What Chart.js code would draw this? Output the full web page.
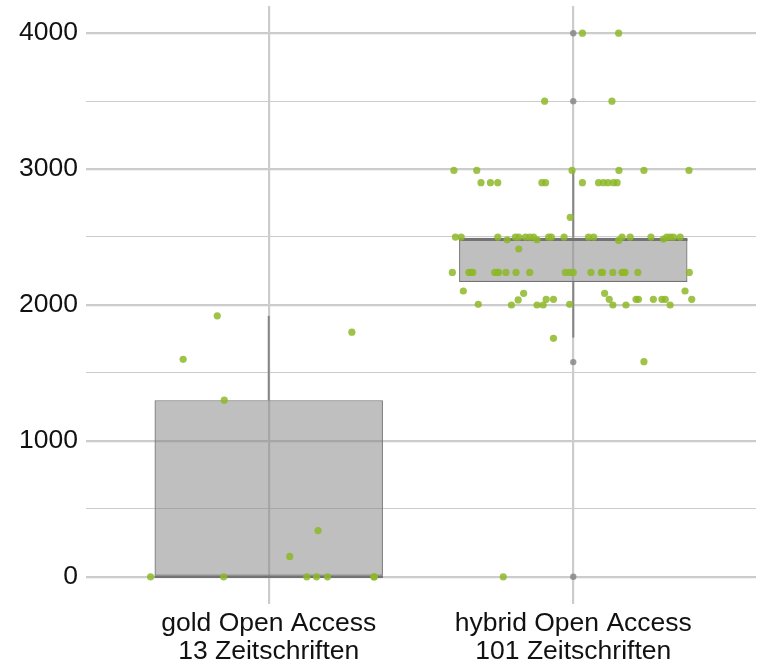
<!DOCTYPE html>
<html>
<head>
<meta charset="utf-8">
<script src="https://cdn.jsdelivr.net/npm/chart.js@4.4.1/dist/chart.umd.min.js"></script>
<style>
  html, body { margin: 0; padding: 0; background: #fff; }
  #wrap { width: 761px; height: 664px; }
</style>
</head>
<body>
<div id="wrap"><canvas id="chart"></canvas></div>
<script>
// Kategorien (x-Achse)
const categories = [
  ["gold Open Access", "13 Zeitschriften"],
  ["hybrid Open Access", "101 Zeitschriften"]
];
const yTicks = [0, 500, 1000, 1500, 2000, 2500, 3000, 3500, 4000];

// Boxplot-Kennzahlen je Kategorie
const boxQ1 = [0, 2170];
const boxMedian = [0, 2480];
const boxQ3 = [1300, 2495];
const whiskerLow = [0, 1760];
const whiskerHigh = [1920, 2990];
const outliers = [[], [4000, 3500, 1580, 0]];

// Einzelwerte gold OA (Jitter = horizontale Streuung um die Kategorie)
const goldValues = [1920, 1600, 1300, 1800, 340, 150, 0, 0, 0, 0, 0, 0, 0];
const goldJitter = [-0.169, -0.281, -0.146, 0.273, 0.162, 0.069, -0.388, -0.148, 0.125, 0.157, 0.193, 0.345, 0.347];

// Einzelwerte hybrid OA
const hybridValues = [
  4000, 4000,
  3500, 3500,
  2990, 2990, 2990, 2990, 2990, 2990,
  2900, 2900, 2900, 2900, 2900, 2900, 2900, 2900, 2900, 2900, 2900,
  2645,
  2500, 2500, 2500, 2480, 2500, 2500, 2500, 2500, 2500, 2480, 2500, 2500, 2500,
  2500, 2500, 2475, 2500, 2500, 2500, 2485, 2500, 2500, 2500, 2500,
  2412,
  2240, 2240, 2240, 2240, 2240, 2240, 2240, 2240, 2240, 2240, 2240,
  2240, 2240, 2240, 2240, 2240, 2240, 2240, 2240, 2240, 2240, 2240,
  2103, 2005, 2000, 2037, 2086, 2000, 2000, 2042, 2042, 2005, 2086,
  2042, 2000, 2000, 2042, 2042, 2042, 2042, 2042, 2000, 2103, 2042,
  1755, 1583, 0
];
const hybridJitter = [
  0.030, 0.149,
  -0.094, 0.127,
  -0.392, -0.317, -0.004, 0.150, 0.232, 0.380,
  -0.303, -0.272, -0.248, -0.103, -0.091, 0.030, 0.083, 0.099, 0.114, 0.132, 0.144,
  -0.010,
  -0.387, -0.368, -0.248, -0.217, -0.190, -0.179, -0.157, -0.143, -0.130, -0.119, -0.081, -0.072, -0.030,
  0.050, 0.067, 0.149, 0.160, 0.187, 0.255, 0.296, 0.307, 0.318, 0.329, 0.351,
  -0.179,
  -0.397, -0.343, -0.335, -0.330, -0.258, -0.250, -0.245, -0.221, -0.188, -0.143, -0.026,
  -0.011, 0.000, 0.058, 0.092, 0.096, 0.130, 0.160, 0.165, 0.170, 0.212, 0.381,
  -0.361, -0.312, -0.203, -0.181, -0.163, -0.119, -0.099, -0.089, -0.065, -0.012, 0.103,
  0.118, 0.130, 0.173, 0.206, 0.214, 0.263, 0.291, 0.302, 0.318, 0.367, 0.389,
  -0.065, 0.232, -0.230
];

const FONT = "'Liberation Sans', Arial, Helvetica, sans-serif";
const GRID = "#cccccc";
const POINT = "rgba(141, 185, 40, 0.85)";
const BOX_HALF = 0.375;

// Datensätze aufbauen
const positions = categories.map((c, i) => i + 1);

const pointData = [];
goldValues.forEach((v, i) => pointData.push({ x: 1 + goldJitter[i], y: v }));
hybridValues.forEach((v, i) => pointData.push({ x: 2 + hybridJitter[i], y: v }));

const outlierData = [];
outliers.forEach((list, i) => list.forEach(v => outlierData.push({ x: positions[i], y: v })));

const segmentDatasets = [];
positions.forEach((p, i) => {
  // Median
  segmentDatasets.push({
    type: "line",
    data: [{ x: p - BOX_HALF, y: boxMedian[i] }, { x: p + BOX_HALF, y: boxMedian[i] }],
    borderColor: "#737373",
    borderWidth: 2.5,
    pointRadius: 0,
    order: 2
  });
  // Whisker oben / unten
  [[boxQ3[i], whiskerHigh[i]], [whiskerLow[i], boxQ1[i]]].forEach(([a, b]) => {
    if (a === b) return;
    segmentDatasets.push({
      type: "line",
      data: [{ x: p, y: a }, { x: p, y: b }],
      borderColor: "#858585",
      borderWidth: 2,
      pointRadius: 0,
      order: 2
    });
  });
});

const ctx = document.getElementById("chart").getContext("2d");
new Chart(ctx, {
  type: "bar",
  data: {
    datasets: [
      {
        type: "bar",
        data: positions.map((p, i) => ({ x: p, y: [boxQ1[i], boxQ3[i]] })),
        backgroundColor: "rgba(127, 127, 127, 0.5)",
        borderColor: "#737373",
        borderWidth: 1.2,
        borderSkipped: false,
        barPercentage: 1,
        categoryPercentage: 0.75,
        order: 3
      },
      ...segmentDatasets,
      {
        type: "line",
        data: outlierData,
        showLine: false,
        pointRadius: 3.2,
        pointBackgroundColor: "rgba(130, 130, 130, 0.8)",
        pointBorderWidth: 0,
        order: 1
      },
      {
        type: "line",
        data: pointData,
        showLine: false,
        pointRadius: 3.6,
        pointBackgroundColor: POINT,
        pointBorderWidth: 0,
        order: 0
      }
    ]
  },
  options: {
    responsive: true,
    maintainAspectRatio: false,
    animation: false,
    layout: { padding: { top: 6, right: 5, left: 0, bottom: 0 } },
    plugins: {
      legend: { display: false },
      tooltip: { enabled: false }
    },
    scales: {
      x: {
        type: "linear",
        min: 0.4,
        max: 2.6,
        offset: false,
        border: { display: false },
        grid: { color: GRID, lineWidth: 2.2, drawTicks: false, offset: false },
        afterBuildTicks: scale => { scale.ticks = positions.map(v => ({ value: v })); },
        afterFit: scale => { scale.height = 60; scale.paddingLeft = 0; scale.paddingRight = 0; },
        ticks: {
          autoSkip: false,
          maxRotation: 0,
          padding: 6,
          color: "#111",
          font: { family: FONT, size: 26.5, lineHeight: "28px" },
          callback: v => categories[Math.round(v) - 1]
        }
      },
      y: {
        type: "linear",
        min: -200,
        max: 4200,
        border: { display: false },
        grid: {
          color: GRID,
          drawTicks: false,
          lineWidth: c => (c.tick && c.tick.value % 1000 === 0 ? 2.2 : 1.1)
        },
        afterBuildTicks: scale => { scale.ticks = yTicks.map(v => ({ value: v })); },
        afterFit: scale => { scale.width = 86; scale.paddingTop = 0; scale.paddingBottom = 0; },
        ticks: {
          padding: 8,
          color: "#111",
          font: { family: FONT, size: 26.5 },
          callback: v => (v % 1000 === 0 ? String(v) : "")
        }
      }
    }
  }
});
</script>
</body>
</html>
